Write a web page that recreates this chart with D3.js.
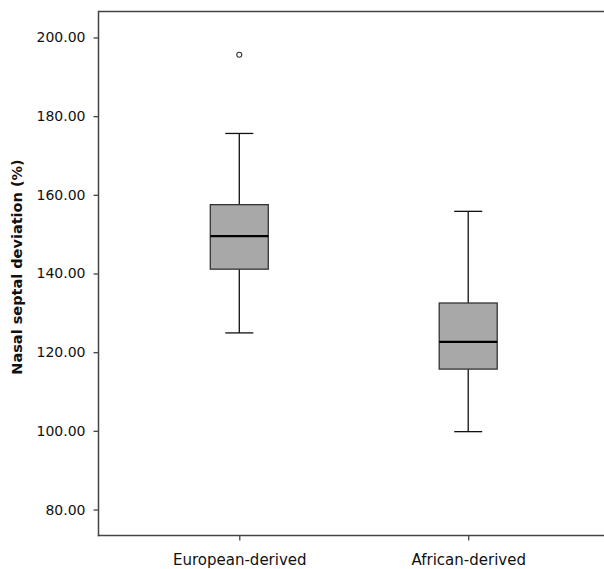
<!DOCTYPE html>
<html>
<head>
<meta charset="utf-8">
<script src="https://cdn.jsdelivr.net/npm/d3@7"></script>
<style>
  body { margin: 0; background: #fff; }
  text { font-family: "DejaVu Sans", sans-serif; fill: #111; }
</style>
</head>
<body>
<div id="chart"></div>
<script>
// groups and box statistics
const groups = ["European-derived", "African-derived"];
const whiskerLow = [124.9, 99.8];
const q1 = [141.1, 115.7];
const median = [149.5, 122.6];
const q3 = [157.5, 132.5];
const whiskerHigh = [175.6, 155.8];
const outliers = [[195.6], []];
const yTicks = [80, 100, 120, 140, 160, 180, 200];

const width = 604;
const height = 569;
const plotLeft = 98.5, plotTop = 11.5, plotBottom = 535.5;

const svg = d3.select("#chart")
  .append("svg")
  .attr("width", width)
  .attr("height", height);

const y = d3.scaleLinear()
  .domain([73.4, 206.6])
  .range([plotBottom, plotTop]);

const x = d3.scalePoint()
  .domain(groups)
  .range([plotLeft, 609])
  .padding(0.615);

const boxes = groups.map((g, i) => ({
  group: g,
  lo: whiskerLow[i], q1: q1[i], med: median[i], q3: q3[i], hi: whiskerHigh[i],
  out: outliers[i]
}));

const boxW = 58;
const capW = 28;

// frame top line
svg.append("line")
  .attr("x1", plotLeft).attr("x2", width)
  .attr("y1", plotTop).attr("y2", plotTop)
  .attr("stroke", "#444").attr("stroke-width", 1.5);

// y axis
const yAxis = svg.append("g")
  .attr("transform", `translate(${plotLeft},0)`)
  .call(d3.axisLeft(y).tickValues(yTicks).tickFormat(d3.format(".2f")).tickSize(5).tickPadding(8));
yAxis.select(".domain").remove();
yAxis.selectAll(".tick line").attr("stroke", "#444").attr("stroke-width", 1.3);
yAxis.selectAll(".tick text").attr("font-size", "14px").style("font-family", "DejaVu Sans, sans-serif").attr("fill", "#111");
svg.append("line")
  .attr("x1", plotLeft).attr("x2", plotLeft)
  .attr("y1", plotTop - 0.75).attr("y2", plotBottom + 0.75)
  .attr("stroke", "#444").attr("stroke-width", 1.5);

// x axis
const xAxis = svg.append("g")
  .attr("transform", `translate(0,${plotBottom})`)
  .call(d3.axisBottom(x).tickSize(5).tickPadding(14));
xAxis.select(".domain").remove();
xAxis.selectAll(".tick line").attr("stroke", "#444").attr("stroke-width", 1.3);
xAxis.selectAll(".tick text").attr("font-size", "15px").style("font-family", "DejaVu Sans, sans-serif").attr("fill", "#111");
svg.append("line")
  .attr("x1", plotLeft - 0.75).attr("x2", width)
  .attr("y1", plotBottom).attr("y2", plotBottom)
  .attr("stroke", "#444").attr("stroke-width", 1.5);

// y title
svg.append("text")
  .attr("transform", `translate(22,267) rotate(-90)`)
  .attr("text-anchor", "middle")
  .attr("font-size", "14.5px")
  .attr("font-weight", "bold")
  .text("Nasal septal deviation (%)");

const g = svg.append("g")
  .selectAll("g")
  .data(boxes)
  .enter()
  .append("g");

// whiskers
g.append("line")
  .attr("x1", d => x(d.group)).attr("x2", d => x(d.group))
  .attr("y1", d => y(d.hi)).attr("y2", d => y(d.q3))
  .attr("stroke", "#111").attr("stroke-width", 1.3);
g.append("line")
  .attr("x1", d => x(d.group)).attr("x2", d => x(d.group))
  .attr("y1", d => y(d.q1)).attr("y2", d => y(d.lo))
  .attr("stroke", "#111").attr("stroke-width", 1.3);

// caps
g.selectAll(".cap")
  .data(d => [d.lo, d.hi].map(v => ({ group: d.group, v })))
  .enter()
  .append("line")
  .attr("class", "cap")
  .attr("x1", d => x(d.group) - capW / 2).attr("x2", d => x(d.group) + capW / 2)
  .attr("y1", d => y(d.v)).attr("y2", d => y(d.v))
  .attr("stroke", "#111").attr("stroke-width", 1.3);

// box
g.append("rect")
  .attr("x", d => x(d.group) - boxW / 2)
  .attr("y", d => y(d.q3))
  .attr("width", boxW)
  .attr("height", d => y(d.q1) - y(d.q3))
  .attr("fill", "#a8a8a8")
  .attr("stroke", "#333")
  .attr("stroke-width", 1.3);

// median
g.append("line")
  .attr("x1", d => x(d.group) - boxW / 2).attr("x2", d => x(d.group) + boxW / 2)
  .attr("y1", d => y(d.med)).attr("y2", d => y(d.med))
  .attr("stroke", "#000").attr("stroke-width", 2.2);

// outliers
g.selectAll(".out")
  .data(d => d.out.map(v => ({ group: d.group, v })))
  .enter()
  .append("circle")
  .attr("class", "out")
  .attr("cx", d => x(d.group))
  .attr("cy", d => y(d.v))
  .attr("r", 2.5)
  .attr("fill", "#fff")
  .attr("stroke", "#333")
  .attr("stroke-width", 1.1);
</script>
</body>
</html>
